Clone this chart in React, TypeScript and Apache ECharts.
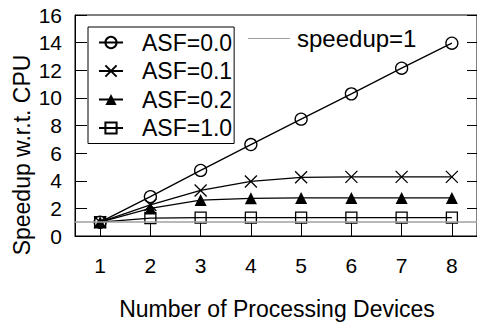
import React, { useEffect, useRef } from "react";
import * as echarts from "echarts";

// Number of processing devices on the x axis
const devices = ["1", "2", "3", "4", "5", "6", "7", "8"];

// Speedup relative to the CPU for each ASF setting
const asf00 = [1, 2.85, 4.75, 6.62, 8.46, 10.29, 12.15, 13.96];
const asf01 = [1, 2.25, 3.3, 3.95, 4.25, 4.28, 4.28, 4.28];
const asf02 = [1, 2.0, 2.6, 2.73, 2.76, 2.76, 2.76, 2.76];
const asf10 = [1, 1.3, 1.33, 1.33, 1.33, 1.33, 1.33, 1.33];

// Reference level drawn as a horizontal line
const speedupBaseline = 1;

const seriesNames = ["ASF=0.0", "ASF=0.1", "ASF=0.2", "ASF=1.0"];

const FONT = "Liberation Sans, Arial, Helvetica, sans-serif";
const CROSS = "path://M0,0L10,10M10,0L0,10";
const BASE_GRAY = "#a0a0a0";

export default function App() {
  const ref = useRef<HTMLDivElement>(null);

  useEffect(() => {
    if (!ref.current) return;
    const chart = echarts.init(ref.current, undefined, { renderer: "svg" });

    const lineSeries = (name: string, data: number[], symbol: string, size: number, filled: boolean) => ({
      name,
      type: "line",
      data,
      symbol,
      symbolSize: size,
      showSymbol: true,
      lineStyle: { color: "#000", width: 1.3 },
      itemStyle: {
        color: filled ? "#000" : "rgba(0,0,0,0)",
        borderColor: "#000",
        borderWidth: filled ? 0 : 1.3,
      },
      emphasis: { disabled: true },
      z: 3,
    });

    chart.setOption({
      animation: false,
      backgroundColor: "#fff",
      textStyle: { fontFamily: FONT, color: "#000" },
      grid: {
        left: 75,
        right: -2,
        top: 15,
        bottom: 89,
        show: true,
        borderColor: "#000",
        borderWidth: 1,
        backgroundColor: "transparent",
      },
      legend: [
        {
          data: seriesNames,
          orient: "vertical",
          left: 88,
          top: 27,
          padding: [4, 2, 4, 10],
          itemGap: 5.5,
          itemWidth: 24,
          itemHeight: 14,
          borderColor: "#000",
          borderWidth: 1,
          backgroundColor: "#fff",
          selectedMode: false,
          textStyle: {
            fontFamily: FONT,
            fontSize: 23,
            lineHeight: 23,
            color: "#000",
            padding: [0, 0, 0, 14],
          },
        },
        {
          data: [{ name: "speedup=1", icon: "rect", itemStyle: { color: BASE_GRAY } }],
          orient: "vertical",
          left: 248,
          top: 26.5,
          padding: 0,
          itemWidth: 42,
          itemHeight: 1.2,
          selectedMode: false,
          textStyle: {
            fontFamily: FONT,
            fontSize: 24,
            lineHeight: 23,
            color: "#000",
            padding: [0, 0, 0, 2],
          },
        },
      ],
      xAxis: {
        type: "category",
        data: devices,
        boundaryGap: true,
        axisLine: { show: true, lineStyle: { color: "#000", width: 1 } },
        axisTick: { show: true, inside: true, alignWithLabel: true, length: 13, lineStyle: { color: "#000" } },
        axisLabel: { fontFamily: FONT, fontSize: 21, color: "#000", margin: 19 },
        splitLine: { show: false },
      },
      yAxis: [
        {
          type: "value",
          min: 0,
          max: 16,
          interval: 2,
          axisLine: { show: true, lineStyle: { color: "#000", width: 1 } },
          axisTick: { show: true, inside: true, length: 12, lineStyle: { color: "#000" } },
          axisLabel: { fontFamily: FONT, fontSize: 21, color: "#000", margin: 13 },
          splitLine: { show: false },
        },
        {
          type: "value",
          position: "right",
          min: 0,
          max: 16,
          interval: 2,
          axisLine: { show: false },
          axisTick: { show: true, inside: true, length: 10, lineStyle: { color: "#000" } },
          axisLabel: { show: false },
          splitLine: { show: false },
        },
      ],
      series: [
        {
          name: "speedup=1",
          type: "line",
          data: [],
          symbol: "none",
          lineStyle: { color: BASE_GRAY, width: 1.5 },
          itemStyle: { color: BASE_GRAY },
          z: 1,
          markLine: {
            silent: true,
            symbol: "none",
            label: { show: false },
            lineStyle: { color: BASE_GRAY, width: 1.5, type: "solid" },
            data: [{ yAxis: speedupBaseline }],
          },
        },
        lineSeries("ASF=0.0", asf00, "circle", 12, false),
        lineSeries("ASF=0.1", asf01, CROSS, 12, false),
        lineSeries("ASF=0.2", asf02, "triangle", 12, true),
        lineSeries("ASF=1.0", asf10, "rect", 11, false),
      ],
      graphic: [
        {
          type: "text",
          x: 277,
          y: 309,
          style: {
            text: "Number of Processing Devices",
            fontFamily: FONT,
            fontSize: 23,
            fill: "#000",
            align: "center",
            verticalAlign: "middle",
          },
        },
        {
          type: "text",
          x: 21.5,
          y: 155,
          rotation: Math.PI / 2,
          style: {
            text: "Speedup w.r.t. CPU",
            fontFamily: FONT,
            fontSize: 23,
            fill: "#000",
            align: "center",
            verticalAlign: "middle",
          },
        },
      ],
    });

    return () => chart.dispose();
  }, []);

  return (
    <div
      ref={ref}
      style={{ position: "fixed", left: 0, top: 0, width: 477, height: 325, background: "#fff" }}
    />
  );
}
